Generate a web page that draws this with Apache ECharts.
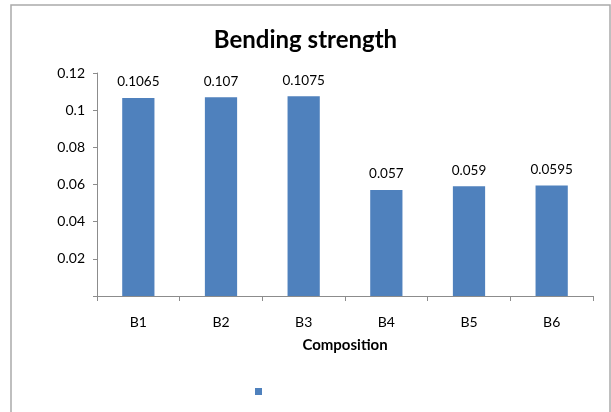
<!DOCTYPE html>
<html>
<head>
<meta charset="utf-8">
<script src="https://cdn.jsdelivr.net/npm/echarts@6/dist/echarts.min.js"></script>
<style>
  html, body { margin: 0; padding: 0; background: #ffffff; }
  #chart { width: 611px; height: 412px; }
</style>
</head>
<body>
<div id="chart"></div>
<script>
// Bending strength per composition
const categories = ['B1', 'B2', 'B3', 'B4', 'B5', 'B6'];
const strengthValues = [0.1065, 0.107, 0.1075, 0.057, 0.059, 0.0595];
const yTicks = { min: 0, max: 0.12, interval: 0.02 };

const FONT = 'Lato, "Open Sans", sans-serif';
const chart = echarts.init(document.getElementById('chart'), null, { renderer: 'canvas' });

chart.setOption({
  backgroundColor: '#ffffff',
  animation: false,
  textStyle: { fontFamily: FONT },
  graphic: [{
    type: 'rect',
    shape: { x: 11, y: 5, width: 599, height: 420 },
    style: { fill: 'none', stroke: '#ababab', lineWidth: 1.5 },
    silent: true
  }],
  title: {
    text: 'Bending strength',
    left: 'center',
    top: 23,
    textStyle: { fontFamily: FONT, fontWeight: 'bold', fontSize: 24, color: '#000000' }
  },
  legend: {
    left: 250,
    top: 383,
    icon: 'rect',
    itemWidth: 7,
    itemHeight: 7,
    formatter: () => '',
    data: ['Bending strength']
  },
  grid: { left: 97, right: 18, top: 73, bottom: 116, containLabel: false },
  xAxis: {
    type: 'category',
    data: categories,
    name: 'Composition',
    nameLocation: 'middle',
    nameGap: 42,
    nameTextStyle: { fontFamily: FONT, fontWeight: 'bold', fontSize: 15, color: '#000000' },
    axisLine: { lineStyle: { color: '#8c8c8c', width: 1 } },
    axisTick: { show: true, length: 5, lineStyle: { color: '#8c8c8c' } },
    axisLabel: { fontFamily: FONT, fontSize: 14, color: '#000000', margin: 19 }
  },
  yAxis: {
    type: 'value',
    min: yTicks.min,
    max: yTicks.max,
    interval: yTicks.interval,
    axisLine: { show: true, lineStyle: { color: '#8c8c8c', width: 1 } },
    axisTick: { show: true, length: 4, lineStyle: { color: '#8c8c8c' } },
    splitLine: { show: false },
    axisLabel: {
      fontFamily: FONT, fontSize: 14, color: '#000000', margin: 12,
      formatter: v => (v === 0 ? '' : String(parseFloat(v.toFixed(4))))
    }
  },
  series: [{
    name: 'Bending strength',
    type: 'bar',
    data: strengthValues,
    barWidth: '39%',
    itemStyle: { color: '#4f81bd' },
    label: {
      show: true,
      position: 'top',
      distance: 9,
      fontFamily: FONT,
      fontSize: 13.5,
      color: '#000000',
      formatter: p => String(p.value)
    }
  }]
});
</script>
</body>
</html>
